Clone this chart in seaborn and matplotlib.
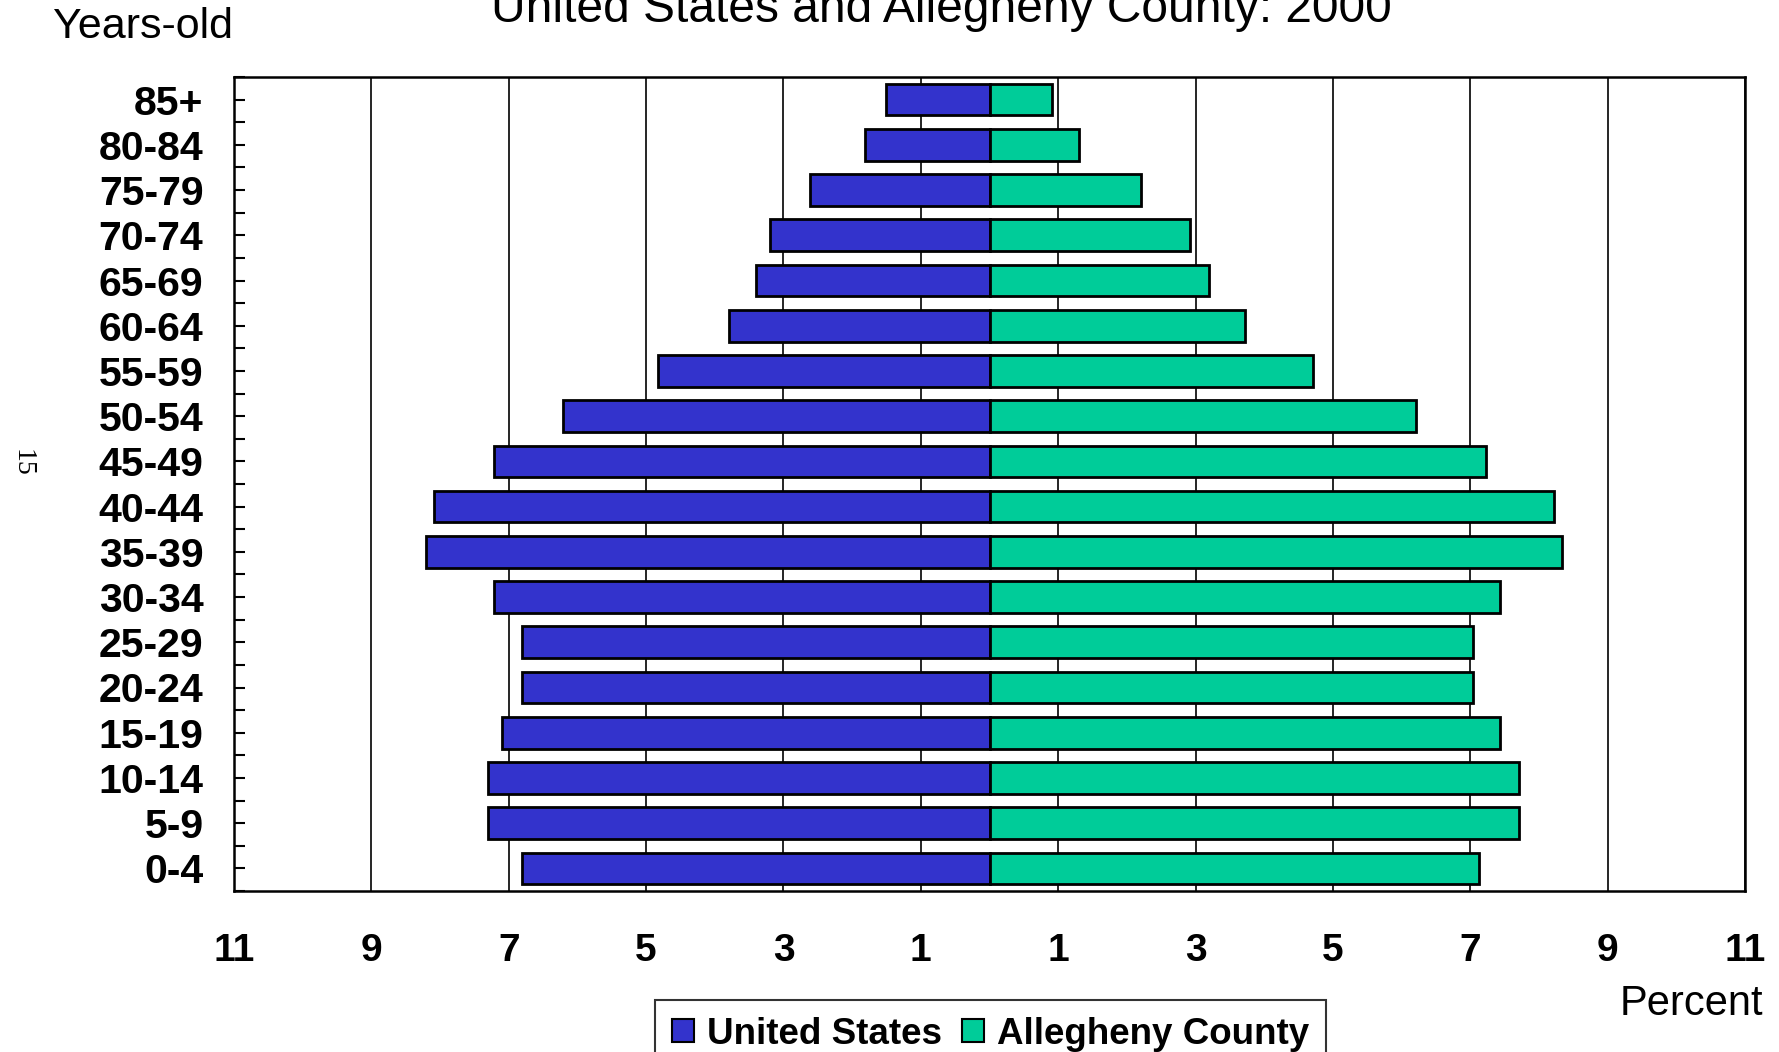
import numpy as np
import pandas as pd
import matplotlib
matplotlib.use("Agg")
import matplotlib.pyplot as plt
from matplotlib.patches import Patch
import seaborn as sns

# ---- data ----
age_groups = ['85+', '80-84', '75-79', '70-74', '65-69', '60-64', '55-59', '50-54',
              '45-49', '40-44', '35-39', '30-34', '25-29', '20-24', '15-19',
              '10-14', '5-9', '0-4']
us_pct = [1.50, 1.81, 2.61, 3.20, 3.40, 3.80, 4.82, 6.21, 7.22, 8.09, 8.21,
          7.22, 6.80, 6.80, 7.10, 7.30, 7.30, 6.80]
allegheny_pct = [0.91, 1.30, 2.21, 2.92, 3.20, 3.72, 4.71, 6.21, 7.23, 8.22, 8.34,
                 7.43, 7.04, 7.04, 7.43, 7.71, 7.71, 7.12]
series_names = ['United States', 'Allegheny County']
x_ticks = [-11, -9, -7, -5, -3, -1, 1, 3, 5, 7, 9, 11]
x_tick_labels = ['11', '9', '7', '5', '3', '1', '1', '3', '5', '7', '9', '11']

BLUE = '#3333CC'
GREEN = '#00CC99'

sns.set_style('white')
plt.rcParams['font.family'] = ['Liberation Sans', 'DejaVu Sans']
plt.rcParams['text.color'] = 'black'
plt.rcParams['xtick.color'] = 'black'
plt.rcParams['ytick.color'] = 'black'
plt.rcParams['axes.labelcolor'] = 'black'

df = pd.DataFrame({
    'age': age_groups * 2,
    'pct': [-v for v in us_pct] + list(allegheny_pct),
    'series': [series_names[0]] * len(age_groups) + [series_names[1]] * len(age_groups),
})

W, H = 1779, 1052
fig = plt.figure(figsize=(W / 100, H / 100), dpi=100)
ax = fig.add_axes([234 / W, 1 - 891 / H, (1745 - 234) / W, (891 - 77) / H])

sns.barplot(data=df, x='pct', y='age', hue='series', hue_order=series_names,
            order=age_groups, dodge=False, palette=[BLUE, GREEN], saturation=1,
            edgecolor='black', linewidth=2.0, width=0.7, errorbar=None,
            orient='h', legend=False, ax=ax, zorder=3)

ax.set_xlim(-11, 11)
ax.set_ylim(len(age_groups) - 0.5, -0.5)
ax.set_xticks(x_ticks)
ax.set_xticklabels(x_tick_labels, fontsize=28, fontweight='bold', color='black')
ax.tick_params(axis='x', length=0, pad=30)

ax.set_yticks(range(len(age_groups)))
ax.set_yticklabels(age_groups, fontsize=29.5, fontweight='bold', color='black')
ax.set_yticks(np.arange(-0.5, len(age_groups), 1.0), minor=True)
ax.tick_params(axis='y', which='both', direction='in', length=8, width=1.5,
               pad=22, color='black', left=True)
ax.set_xlabel('')
ax.set_ylabel('')

# vertical gridlines behind bars
ax.set_axisbelow(True)
ax.grid(axis='x', color='black', linewidth=1.2)
ax.grid(axis='y', visible=False)
for s in ax.spines.values():
    s.set_visible(True)
    s.set_color('black')
    s.set_linewidth(1.8)

# texts
fig.text(491 / W, 1 - 22 / H, 'United States and Allegheny County: 2000',
         fontsize=34.5, ha='left', va='baseline', color='black')
fig.text(53 / W, 1 - 38 / H, 'Years-old', fontsize=31, ha='left', va='baseline',
         color='black')
fig.text(1763 / W, 1 - 1015 / H, 'Percent', fontsize=30, ha='right', va='baseline',
         color='black')
fig.text(22 / W, 1 - 463 / H, '15', fontsize=20, rotation=270, color='black',
         family=['Liberation Serif', 'DejaVu Serif'], ha='center', va='center')

# legend
handles = [Patch(facecolor=BLUE, edgecolor='black', linewidth=1.5),
           Patch(facecolor=GREEN, edgecolor='black', linewidth=1.5)]
leg = fig.legend(handles, series_names, loc='upper left',
                 bbox_to_anchor=(655 / W, 1 - 1000 / H), ncol=2,
                 prop={'size': 26.5, 'weight': 'bold'},
                 handlelength=0.6, handleheight=0.6, handletextpad=0.35,
                 columnspacing=0.55, borderpad=0.45, borderaxespad=0,
                 fancybox=False, frameon=True)
leg.get_frame().set_edgecolor('black')
leg.get_frame().set_linewidth(1.5)
for t in leg.get_texts():
    t.set_color('black')

fig.savefig('out.png', dpi=100)
